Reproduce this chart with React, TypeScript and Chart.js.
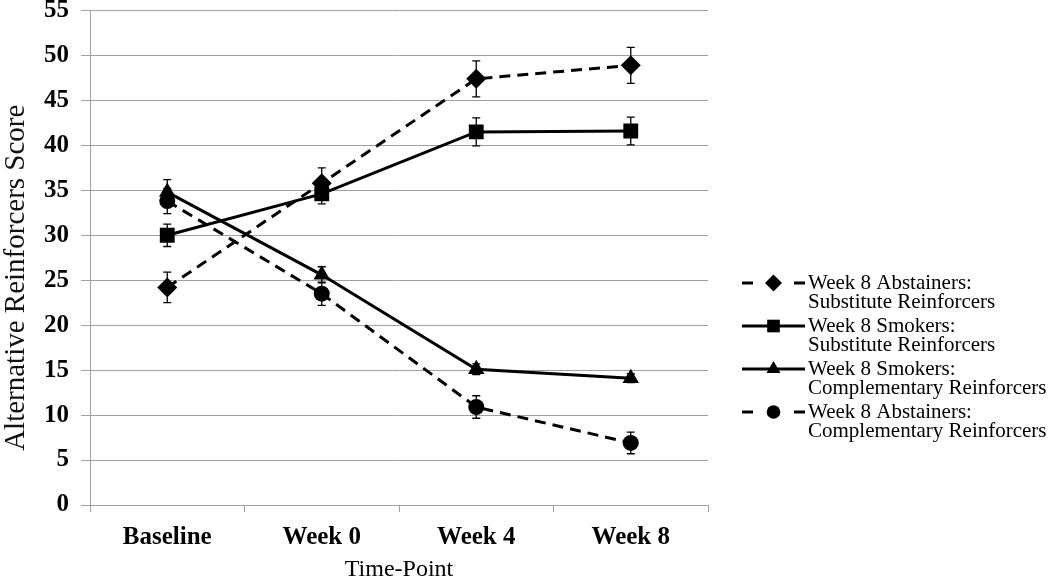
import React, { useEffect, useRef } from "react";
import { Chart, registerables } from "chart.js";
Chart.register(...registerables);

const categories = ["Baseline", "Week 0", "Week 4", "Week 8"];
const yTicks = [0, 5, 10, 15, 20, 25, 30, 35, 40, 45, 50, 55];
const yTitle = "Alternative Reinforcers Score";
const xTitle = "Time-Point";

const abstSub = [24.2, 35.8, 47.4, 48.9];
const abstSubErr = [1.7, 1.7, 2.0, 2.0];
const smokSub = [30.0, 34.6, 41.5, 41.6];
const smokSubErr = [1.25, 1.1, 1.55, 1.55];
const smokComp = [34.8, 25.6, 15.1, 14.1];
const smokCompErr = [1.4, 0.9, 0.6, 0.5];
const abstComp = [33.8, 23.5, 10.9, 6.9];
const abstCompErr = [1.4, 1.3, 1.25, 1.2];

const seriesNames = [
  ["Week 8 Abstainers:", "Substitute Reinforcers"],
  ["Week 8 Smokers:", "Substitute Reinforcers"],
  ["Week 8 Smokers:", "Complementary Reinforcers"],
  ["Week 8 Abstainers:", "Complementary Reinforcers"],
];
const seriesValues = [abstSub, smokSub, smokComp, abstComp];
const seriesErrors = [abstSubErr, smokSubErr, smokCompErr, abstCompErr];
const seriesMarkers = ["rectRot", "rect", "triangle", "circle"];
const seriesRadius = [10, 10.5, 9.5, 8];
const seriesDashed = [true, false, false, true];

const GRID = "#a0a0a0";
const SERIF = "'Liberation Serif', 'Times New Roman', serif";

function drawMarker(ctx: CanvasRenderingContext2D, style: string, x: number, y: number, r: number) {
  ctx.beginPath();
  if (style === "rectRot") {
    ctx.moveTo(x - r, y);
    ctx.lineTo(x, y - r);
    ctx.lineTo(x + r, y);
    ctx.lineTo(x, y + r);
    ctx.closePath();
  } else if (style === "rect") {
    const s = Math.SQRT1_2 * r;
    ctx.rect(x - s, y - s, 2 * s, 2 * s);
  } else if (style === "triangle") {
    const a = (2 * Math.PI) / 3;
    ctx.moveTo(x, y - r);
    ctx.lineTo(x + Math.sin(a) * r, y - Math.cos(a) * r);
    ctx.lineTo(x + Math.sin(2 * a) * r, y - Math.cos(2 * a) * r);
    ctx.closePath();
  } else {
    ctx.arc(x, y, r, 0, Math.PI * 2);
  }
  ctx.fill();
}

const errorBarPlugin = {
  id: "errorBars",
  beforeDatasetsDraw(chart: any) {
    const ctx = chart.ctx;
    const ys = chart.scales.y;
    ctx.save();
    ctx.strokeStyle = "#000";
    ctx.lineWidth = 1.3;
    chart.data.datasets.forEach((ds: any, i: number) => {
      const meta = chart.getDatasetMeta(i);
      meta.data.forEach((pt: any, j: number) => {
        const v = ds.data[j];
        const e = seriesErrors[i][j];
        const top = ys.getPixelForValue(v + e);
        const bot = ys.getPixelForValue(v - e);
        const x = pt.x;
        ctx.beginPath();
        ctx.moveTo(x, top);
        ctx.lineTo(x, bot);
        ctx.moveTo(x - 4, top);
        ctx.lineTo(x + 4, top);
        ctx.moveTo(x - 4, bot);
        ctx.lineTo(x + 4, bot);
        ctx.stroke();
      });
    });
    ctx.restore();
  },
};

const yTitlePlugin = {
  id: "yTitle",
  afterDraw(chart: any) {
    const ctx = chart.ctx;
    const ys = chart.scales.y;
    ctx.save();
    ctx.font = `29px ${SERIF}`;
    ctx.fillStyle = "#111";
    ctx.textAlign = "center";
    ctx.textBaseline = "middle";
    const cy = (ys.top + ys.bottom) / 2 + 20;
    ctx.translate(16, cy);
    ctx.rotate(-Math.PI / 2);
    ctx.fillText(yTitle, 0, 0);
    ctx.restore();
  },
};

const legendPlugin = {
  id: "customLegend",
  afterDraw(chart: any) {
    const ctx = chart.ctx;
    ctx.save();
    const x0 = 742;
    const x1 = 805;
    const tx = 808;
    const starts = [283, 326, 369, 412];
    ctx.font = `21px ${SERIF}`;
    ctx.textBaseline = "middle";
    ctx.fillStyle = "#000";
    seriesNames.forEach((lines, i) => {
      const y = starts[i];
      ctx.strokeStyle = "#000";
      ctx.lineWidth = 3;
      if (seriesDashed[i]) {
        ctx.beginPath();
        ctx.moveTo(x0, y);
        ctx.lineTo(x0 + 11, y);
        ctx.moveTo(x1 - 11, y);
        ctx.lineTo(x1, y);
        ctx.stroke();
      } else {
        ctx.beginPath();
        ctx.moveTo(x0, y);
        ctx.lineTo(x1, y);
        ctx.stroke();
      }
      ctx.fillStyle = "#000";
      drawMarker(ctx, seriesMarkers[i], (x0 + x1) / 2, y, seriesRadius[i] * 0.85);
      ctx.textAlign = "left";
      ctx.fillText(lines[0], tx, y);
      ctx.fillText(lines[1], tx, y + 19);
    });
    ctx.restore();
  },
};

export default function App() {
  const ref = useRef<HTMLCanvasElement | null>(null);
  useEffect(() => {
    if (!ref.current) return;
    const chart = new Chart(ref.current, {
      type: "line",
      data: {
        labels: categories,
        datasets: seriesValues.map((vals, i) => ({
          label: seriesNames[i].join(" "),
          data: vals,
          borderColor: "#000",
          backgroundColor: "#000",
          borderWidth: 3,
          borderDash: seriesDashed[i] ? [11, 7] : [],
          pointStyle: seriesMarkers[i] as any,
          pointRadius: seriesRadius[i],
          pointBorderWidth: 0,
          pointBackgroundColor: "#000",
          tension: 0,
        })),
      },
      options: {
        animation: false,
        responsive: false,
        maintainAspectRatio: false,
        layout: { padding: { left: 0, right: 342, top: 9, bottom: 0 } },
        plugins: {
          legend: { display: false },
          tooltip: { enabled: false },
        },
        scales: {
          x: {
            offset: true,
            grid: { offset: true, drawOnChartArea: false, color: GRID, tickLength: 7 },
            border: { color: GRID, width: 1 },
            ticks: { color: "#000", font: { family: SERIF, size: 25, weight: "bold" }, padding: 11 },
            title: {
              display: true,
              text: xTitle,
              color: "#000",
              font: { family: SERIF, size: 24, lineHeight: 1 },
              padding: { top: 0, bottom: -3 },
            },
            afterFit(scale: any) {
              scale.height = 74;
              scale.paddingLeft = 0;
              scale.paddingRight = 0;
            },
          },
          y: {
            min: 0,
            max: 55,
            afterBuildTicks(scale: any) {
              scale.ticks = yTicks.map((v) => ({ value: v }));
            },
            grid: { color: GRID, tickLength: 9 },
            border: { color: GRID, width: 1 },
            ticks: { color: "#000", font: { family: SERIF, size: 25, weight: "bold" }, padding: 12 },
            title: { display: false },
            afterFit(scale: any) {
              scale.width = 90;
              scale.paddingTop = 0;
              scale.paddingBottom = 0;
            },
          },
        },
      },
      plugins: [errorBarPlugin, yTitlePlugin, legendPlugin],
    });
    return () => chart.destroy();
  }, []);
  return (
    <div style={{ position: "fixed", left: 0, top: 0, width: 1050, height: 579, background: "#fff" }}>
      <canvas ref={ref} width={1050} height={579} style={{ width: 1050, height: 579 }} />
    </div>
  );
}
